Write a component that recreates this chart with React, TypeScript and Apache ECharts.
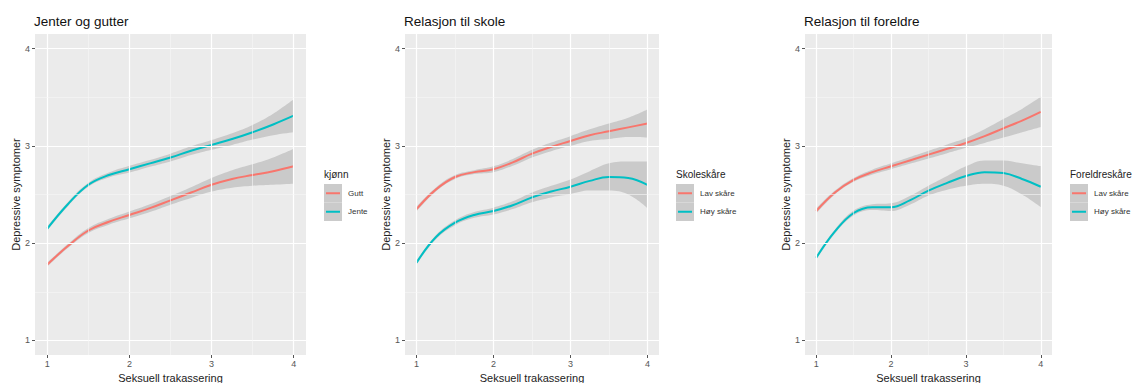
import React, { useEffect, useRef } from "react";
import * as echarts from "echarts";

const XS = [1, 1.25, 1.5, 1.75, 2, 2.25, 2.5, 2.75, 3, 3.25, 3.5, 3.75, 4];
const TICKS = [1, 2, 3, 4];
const MINOR = [1.5, 2.5, 3.5];

const TITLES = ["Jenter og gutter", "Relasjon til skole", "Relasjon til foreldre"];
const LEGEND_TITLES = ["kjønn", "Skoleskåre", "Foreldreskåre"];
const LEGEND_LABELS = [["Gutt", "Jente"], ["Lav skåre", "Høy skåre"], ["Lav skåre", "Høy skåre"]];

// Panel 1
const gutt = [1.78, 1.97, 2.13, 2.22, 2.29, 2.36, 2.44, 2.52, 2.6, 2.66, 2.7, 2.74, 2.79];
const guttCI = [0.02, 0.02, 0.025, 0.03, 0.035, 0.04, 0.045, 0.055, 0.07, 0.09, 0.11, 0.14, 0.18];
const jente = [2.15, 2.4, 2.6, 2.7, 2.76, 2.82, 2.88, 2.95, 3.01, 3.07, 3.14, 3.22, 3.31];
const jenteCI = [0.02, 0.02, 0.02, 0.025, 0.035, 0.035, 0.04, 0.045, 0.05, 0.06, 0.075, 0.11, 0.17];
// Panel 2
const skoleLav = [2.35, 2.55, 2.68, 2.73, 2.76, 2.83, 2.92, 2.99, 3.05, 3.11, 3.15, 3.19, 3.23];
const skoleLavCI = [0.025, 0.02, 0.02, 0.02, 0.03, 0.035, 0.04, 0.045, 0.05, 0.06, 0.08, 0.1, 0.145];
const skoleHoy = [1.8, 2.06, 2.21, 2.29, 2.33, 2.39, 2.47, 2.53, 2.58, 2.64, 2.68, 2.67, 2.6];
const skoleHoyCI = [0.02, 0.02, 0.025, 0.03, 0.035, 0.04, 0.05, 0.06, 0.075, 0.1, 0.14, 0.17, 0.24];
// Panel 3
const forLav = [2.33, 2.52, 2.65, 2.73, 2.79, 2.85, 2.91, 2.97, 3.03, 3.1, 3.18, 3.26, 3.35];
const forLavCI = [0.025, 0.02, 0.02, 0.025, 0.03, 0.035, 0.04, 0.045, 0.05, 0.07, 0.095, 0.12, 0.155];
const forHoy = [1.85, 2.12, 2.31, 2.37, 2.37, 2.44, 2.54, 2.62, 2.69, 2.73, 2.72, 2.66, 2.58];
const forHoyCI = [0.02, 0.02, 0.025, 0.03, 0.04, 0.045, 0.05, 0.07, 0.1, 0.12, 0.13, 0.16, 0.21];

const PANELS = [
  [[gutt, guttCI], [jente, jenteCI]],
  [[skoleLav, skoleLavCI], [skoleHoy, skoleHoyCI]],
  [[forLav, forLavCI], [forHoy, forHoyCI]],
];

const RED = "#F8766D";
const TEAL = "#00BFC4";
const BAND = "rgba(153,153,153,0.4)";
const FONT = "Liberation Sans, Arial, sans-serif";

const GRIDS = [
  { left: 35, width: 271 },
  { left: 405, width: 254 },
  { left: 805, width: 247 },
];
const LEGEND_X = [324, 676, 1070];

export default function App() {
  const ref = useRef<HTMLDivElement>(null);
  useEffect(() => {
    if (!ref.current) return;
    const chart = echarts.init(ref.current, undefined, { renderer: "svg" });
    const grid: any[] = [];
    const xAxis: any[] = [];
    const yAxis: any[] = [];
    const series: any[] = [];
    const graphic: any[] = [];
    GRIDS.forEach((g, p) => {
      grid.push({
        left: g.left, width: g.width, top: 34, height: 321,
        outerBoundsMode: "none", containLabel: false,
        show: true, backgroundColor: "#EBEBEB", borderWidth: 0,
      });
      xAxis.push({
        type: "value", gridIndex: p, min: 0.85, max: 4.15,
        name: "Seksuell trakassering", nameLocation: "middle", nameGap: 15,
        nameTextStyle: { fontFamily: FONT, fontSize: 11, color: "#222" },
        axisLine: { show: false },
        axisTick: { show: true, length: 3, customValues: TICKS, lineStyle: { color: "#555" } },
        axisLabel: { customValues: TICKS, margin: 4, fontFamily: FONT, fontSize: 9, color: "#555" },
        splitLine: { show: false },
      });
      yAxis.push({
        type: "value", gridIndex: p, min: 0.85, max: 4.15,
        name: "Depressive symptomer", nameLocation: "middle", nameGap: 14,
        nameTextStyle: { fontFamily: FONT, fontSize: 11, color: "#222" },
        axisLine: { show: false },
        axisTick: { show: true, length: 3, customValues: TICKS, lineStyle: { color: "#555" } },
        axisLabel: { customValues: TICKS, margin: 5, fontFamily: FONT, fontSize: 9, color: "#555" },
        splitLine: { show: false },
      });
      const ml: any[] = [];
      TICKS.forEach((t) => {
        ml.push({ xAxis: t, lineStyle: { color: "#fff", width: 1.2, type: "solid" } });
        ml.push({ yAxis: t, lineStyle: { color: "#fff", width: 1.2, type: "solid" } });
      });
      MINOR.forEach((t) => {
        ml.push({ xAxis: t, lineStyle: { color: "#f6f6f6", width: 0.6, type: "solid" } });
        ml.push({ yAxis: t, lineStyle: { color: "#f6f6f6", width: 0.6, type: "solid" } });
      });
      series.push({
        type: "line", xAxisIndex: p, yAxisIndex: p, data: [], silent: true,
        markLine: { silent: true, symbol: ["none", "none"], label: { show: false }, animation: false, data: ml },
      });
      PANELS[p].forEach(([mean, ci], k) => {
        const st = `band${p}_${k}`;
        // data given as [y, x] so the stacked dimension is y
        series.push({
          type: "line", xAxisIndex: p, yAxisIndex: p, stack: st, smooth: 0.4, symbol: "none", silent: true,
          encode: { x: 1, y: 0 },
          lineStyle: { opacity: 0 },
          data: XS.map((x, i) => [mean[i] - ci[i], x]),
        });
        series.push({
          type: "line", xAxisIndex: p, yAxisIndex: p, stack: st, smooth: 0.4, symbol: "none", silent: true,
          encode: { x: 1, y: 0 },
          lineStyle: { opacity: 0 }, areaStyle: { color: BAND, opacity: 1 },
          data: XS.map((x, i) => [2 * ci[i], x]),
        });
      });
      PANELS[p].forEach(([mean], k) => {
        series.push({
          type: "line", xAxisIndex: p, yAxisIndex: p, smooth: 0.4, symbol: "none", silent: true,
          lineStyle: { color: k === 0 ? RED : TEAL, width: 2 },
          data: XS.map((x, i) => [x, mean[i]]),
        });
      });
      graphic.push({
        type: "text", left: g.left - 1, top: 14,
        style: { text: TITLES[p], fontFamily: FONT, fontSize: 13.5, fill: "#111" },
      });
      const lx = LEGEND_X[p];
      graphic.push({
        type: "text", x: lx, y: 174,
        style: { text: LEGEND_TITLES[p], fontFamily: FONT, fontSize: 10, fill: "#222", verticalAlign: "middle" },
      });
      [0, 1].forEach((k) => {
        const ky = 184 + k * 18.5;
        graphic.push({ type: "rect", shape: { x: lx, y: ky, width: 18, height: 18.5 }, style: { fill: "#CBCBCB" } });
        graphic.push({
          type: "line", shape: { x1: lx + 2, y1: ky + 9.25, x2: lx + 16, y2: ky + 9.25 },
          style: { stroke: k === 0 ? RED : TEAL, lineWidth: 2 },
        });
        graphic.push({
          type: "text", x: lx + 24, y: ky + 9.25,
          style: { text: LEGEND_LABELS[p][k], fontFamily: FONT, fontSize: 8, fill: "#333", verticalAlign: "middle" },
        });
      });
    });
    chart.setOption({
      animation: false,
      backgroundColor: "#fff",
      grid, xAxis, yAxis, series, graphic,
    });
    return () => chart.dispose();
  }, []);
  return <div ref={ref} style={{ width: 1142, height: 383, position: "fixed", left: 0, top: 0 }} />;
}
